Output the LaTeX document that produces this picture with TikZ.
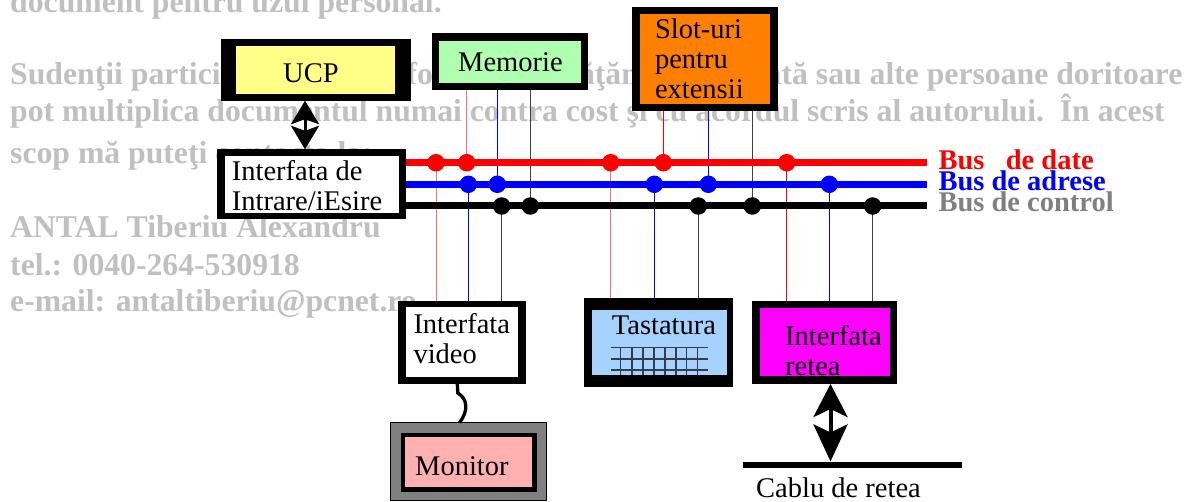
\documentclass[tikz,border=0pt]{standalone}
\usepackage{fontspec}
\setmainfont{Liberation Serif}
\usetikzlibrary{arrows.meta}

\definecolor{wmgray}{RGB}{192,192,192}
\definecolor{ctrlgray}{RGB}{128,128,128}
\definecolor{ucpfill}{RGB}{255,255,136}
\definecolor{memfill}{RGB}{176,255,176}
\definecolor{slotfill}{RGB}{255,128,0}
\definecolor{kbdfill}{RGB}{166,210,255}
\definecolor{netfill}{RGB}{255,0,255}
\definecolor{monfill}{RGB}{255,176,176}
\definecolor{mongray}{RGB}{128,128,128}
\definecolor{tapred}{RGB}{255,110,110}
\definecolor{tapdark}{RGB}{64,64,64}
\definecolor{gridcol}{RGB}{55,60,75}

\newcommand\boxfont{\fontsize{28.5}{30}\selectfont}
\newcommand\wmfont{\fontsize{31.7}{37}\selectfont\bfseries}

\begin{document}
\begin{tikzpicture}[x=1pt,y=-1pt,
  wm/.style={anchor=base west, inner sep=0pt, text=wmgray, font=\wmfont},
  lbl/.style={anchor=base west, inner sep=0pt, font=\boxfont},
  buslbl/.style={anchor=base west, inner sep=0pt, font=\boxfont\bfseries},
  shell/.style={rectangle, fill=black, inner sep=0pt, outer sep=0pt, anchor=north west},
  core/.style={rectangle, inner sep=0pt, outer sep=0pt, anchor=north west},
  bus/.style={line width=7pt},
  joint/.style={circle, inner sep=0pt, minimum size=17.5pt},
  tap/.style={line width=1pt},
  grid/.style={gridcol, line width=1.3pt},
  smallarr/.style={line width=3pt, {Stealth[length=23.5pt,width=28pt,inset=5pt]}-{Stealth[length=23.5pt,width=28pt,inset=5pt]}},
  bigarr/.style={line width=4pt, {Stealth[length=33pt,width=34pt,inset=8pt]}-{Stealth[length=37pt,width=34pt,inset=8pt]}}
]
\fill[white] (0,0) rectangle (1193,502);
\useasboundingbox (0,0) rectangle (1193,502);

% author's notice in the background
\node[wm] (wm1) at (10,13) {document pentru uzul personal.};
\node[wm] (wm2) at (10,85) {Sudenţii participanţi la orice formă de învăţământ cu plată sau alte persoane doritoare};
\node[wm] (wm3) at (10,122) {pot multiplica documentul numai contra cost şi cu acordul scris al autorului.\ \ În acest};
\node[wm] (wm4) at (10,163.5) {scop mă puteţi contacta la:};
\node[wm] (wm5) at (10,238) {ANTAL Tiberiu Alexandru};
\node[wm] (wm6) at (10,275.5) {tel.: 0040-264-530918};
\node[wm] (wm7) at (10,312) {e-mail: antaltiberiu@pcnet.ro};

% CPU
\node[shell, minimum width=190pt, minimum height=61.4pt] (ucp) at (220.7,39.3) {};
\node[core, fill=ucpfill, minimum width=159pt, minimum height=48pt] (ucpin) at (236,46) {};
\node[lbl] (ucpt) at (283,82.5) {UCP};

% memory
\node[shell, minimum width=156.6pt, minimum height=57.3pt] (mem) at (431.7,32.7) {};
\node[core, fill=memfill, minimum width=141.7pt, minimum height=42pt] (memin) at (439,40.7) {};
\node[lbl] (memt) at (458,71.5) {Memorie};

% expansion slots
\node[shell, minimum width=146pt, minimum height=104.3pt] (slot) at (632,6.7) {};
\node[core, fill=slotfill, minimum width=130pt, minimum height=90pt] (slotin) at (640,14) {};
\node[lbl] (slott1) at (654.8,39) {Slot-uri};
\node[lbl] (slott2) at (654.8,69) {pentru};
\node[lbl] (slott3) at (654.8,99) {extensii};

% I/O interface
\node[shell, minimum width=188.7pt, minimum height=70pt] (io) at (217.3,149.3) {};
\node[core, fill=white, minimum width=173.7pt, minimum height=57.3pt] (ioin) at (225.3,156) {};
\node[lbl] (iot1) at (231.7,181) {Interfata de};
\node[lbl] (iot2) at (231.7,210.7) {Intrare/iEsire};

% video interface
\node[shell, minimum width=127.4pt, minimum height=83pt] (vid) at (398.3,301) {};
\node[core, fill=white, minimum width=112.3pt, minimum height=70pt] (vidin) at (406,307.3) {};
\node[lbl] (vidt1) at (413.3,333.3) {Interfata};
\node[lbl] (vidt2) at (413.3,363.3) {video};

% keyboard
\node[shell, minimum width=149pt, minimum height=88.4pt] (kbd) at (584,298.3) {};
\node[core, fill=kbdfill, minimum width=135pt, minimum height=65pt] (kbdin) at (591.7,310) {};
\node[lbl] (kbdt) at (611.7,334.3) {Tastatura};
\foreach \gy in {347.7,359,370}
  \draw[grid] (610.7,\gy) -- (708.3,\gy);
\foreach \gx in {620.7,632,643,654,665,676,686.7,697.7}
  \draw[grid] (\gx,347.7) -- (\gx,375);

% network interface
\node[shell, minimum width=145pt, minimum height=83pt] (net) at (752.3,301) {};
\node[core, fill=netfill, minimum width=130pt, minimum height=67.7pt] (netin) at (760,308.3) {};
\node[lbl] (nett1) at (785,345) {Interfata};
\node[lbl] (nett2) at (785,375) {retea};

% monitor
\node[core, draw=black, line width=1pt, fill=mongray, minimum width=156.7pt, minimum height=77.3pt] (mon) at (390,422.7) {};
\node[shell, minimum width=136pt, minimum height=58.4pt] (monmid) at (400.7,433.3) {};
\node[core, fill=monfill, minimum width=126.7pt, minimum height=50.6pt] (monin) at (405,436.7) {};
\node[lbl] (mont) at (415,475) {Monitor};

% network cable
\node[rectangle, fill=black, inner sep=0pt, minimum width=218.4pt, minimum height=6.7pt] (cable) at (852.5,465) {};
\node[lbl] (cablet) at (756,497.5) {Cablu de retea};

% bus junction points
\coordinate (r1) at (436,162.7);   \coordinate (r2) at (466.7,162.7);
\coordinate (r3) at (610.7,162.7); \coordinate (r4) at (663.3,162.7);
\coordinate (r5) at (786.7,162.7);
\coordinate (b1) at (468.3,184.3); \coordinate (b2) at (497.3,184.3);
\coordinate (b3) at (654.3,184.3); \coordinate (b4) at (708.3,184.3);
\coordinate (b5) at (829.3,184.3);
\coordinate (k1) at (501.7,206);   \coordinate (k2) at (530.3,206);
\coordinate (k3) at (698.3,206);   \coordinate (k4) at (752.3,206);
\coordinate (k5) at (872.7,206);
\coordinate (rend) at (926.7,162.7);
\coordinate (bend) at (926.7,184.3);
\coordinate (kend) at (926.7,206);

% taps from the buses to the units
\draw[tap, tapred] (r1) -- (r1 |- vid.north);
\draw[tap, tapred] (r2) -- (r2 |- mem.south);
\draw[tap, tapred] (r3) -- (r3 |- kbd.north);
\draw[tap, red]    (r4) -- (r4 |- slot.south);
\draw[tap, red]    (r5) -- (r5 |- net.north);
\draw[tap, blue] (b1) -- (b1 |- vid.north);
\draw[tap, blue] (b2) -- (b2 |- mem.south);
\draw[tap, blue] (b3) -- (b3 |- kbd.north);
\draw[tap, blue] (b4) -- (b4 |- slot.south);
\draw[tap, blue] (b5) -- (b5 |- net.north);
\draw[tap, tapdark] (k1) -- (k1 |- vid.north);
\draw[tap, tapdark] (k2) -- (k2 |- mem.south);
\draw[tap, tapdark] (k3) -- (k3 |- kbd.north);
\draw[tap, tapdark] (k4) -- (k4 |- slot.south);
\draw[tap, tapdark] (k5) -- (k5 |- net.north);

% the three buses
\draw[bus, red]   (io.east |- r1) -- (rend);
\draw[bus, blue]  (io.east |- b1) -- (bend);
\draw[bus, black] (io.east |- k1) -- (kend);

\foreach \p in {r1,r2,r3,r4,r5} \node[joint, fill=red] (\p dot) at (\p) {};
\foreach \p in {b1,b2,b3,b4,b5} \node[joint, fill=blue] (\p dot) at (\p) {};
\foreach \p in {k1,k2,k3,k4,k5} \node[joint, fill=black] (\p dot) at (\p) {};

\node[buslbl, text=red]      (lbd) at (938.3,170)   {Bus\ \ \ de date};
\node[buslbl, text=blue]     (lba) at (938.3,191)   {Bus de adrese};
\node[buslbl, text=ctrlgray] (lbc) at (938.3,211.7) {Bus de control};

% CPU <-> I/O link
\draw[smallarr] ([xshift=-10.7pt]ucp.south) -- ([xshift=-10.7pt]ucp.south |- io.north);

% network interface <-> cable
\draw[bigarr] ([xshift=5.7pt]net.south) -- ([xshift=5.7pt]net.south |- cable.north);

% video cable to the monitor
\draw[line width=3.3pt] ([xshift=-4.7pt]vid.south) -- ++(0.5,9)
  .. controls ++(10,6) and ++(9,-12) .. ([xshift=-8.8pt]mon.north);
\end{tikzpicture}
\end{document}
